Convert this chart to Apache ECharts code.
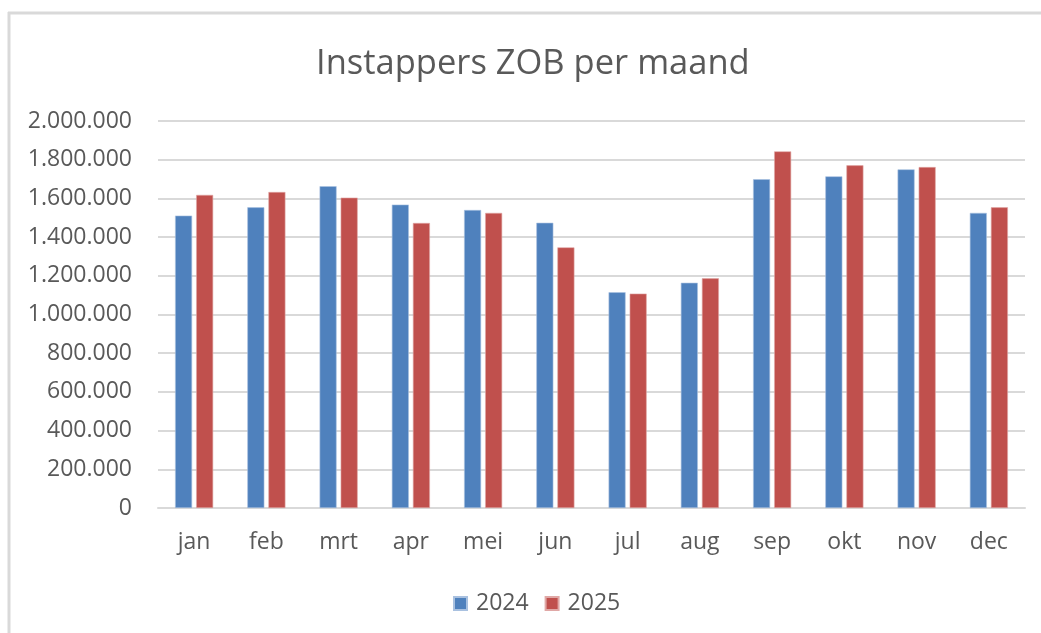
<!DOCTYPE html>
<html>
<head>
<meta charset="utf-8">
<script src="https://cdn.jsdelivr.net/npm/echarts@6/dist/echarts.min.js"></script>
<style>
html,body{margin:0;padding:0;background:#fff;}
#chart{width:1041px;height:633px;}
</style>
</head>
<body>
<div id="chart"></div>
<script>
const categories = ['jan','feb','mrt','apr','mei','jun','jul','aug','sep','okt','nov','dec'];
const values2024 = [1511000,1554000,1663000,1568000,1540000,1474000,1115000,1164000,1699000,1714000,1750000,1525000];
const values2025 = [1618000,1633000,1604000,1473000,1525000,1347000,1108000,1187000,1843000,1771000,1762000,1554000];
const seriesNames = ['2024','2025'];
const titleText = 'Instappers ZOB per maand';

const FONT = '"Open Sans", "Noto Sans", sans-serif';
const chart = echarts.init(document.getElementById('chart'), null, {renderer:'canvas'});
function fmt(v){ return String(v).replace(/\B(?=(\d{3})+(?!\d))/g,'.'); }
chart.setOption({
  backgroundColor:'#fff',
  animation:false,
  title:{
    text:titleText, left:311, top:42,
    textStyle:{fontFamily:FONT,fontSize:34.5,fontWeight:'normal',color:'#595959'}
  },
  legend:{
    data:seriesNames, left:448, top:587, itemWidth:13, itemHeight:13, itemGap:16,
    icon:'rect',
    textStyle:{fontFamily:FONT,fontSize:23,color:'#595959',padding:[0,0,0,4]}
  },
  grid:{left:158,right:16,top:121,bottom:125,containLabel:false},
  xAxis:{
    type:'category', data:categories,
    axisLine:{lineStyle:{color:'#d9d9d9',width:2}},
    axisTick:{show:false},
    axisLabel:{fontFamily:FONT,fontSize:23,color:'#595959',margin:23}
  },
  yAxis:{
    type:'value', min:0, max:2000000, interval:200000,
    axisLine:{show:false}, axisTick:{show:false},
    splitLine:{lineStyle:{color:'#d9d9d9',width:2}},
    axisLabel:{fontFamily:FONT,fontSize:23,color:'#595959',margin:26,formatter:fmt}
  },
  series:[
    {name:seriesNames[0],type:'bar',data:values2024,barWidth:17,barGap:'24%',
     itemStyle:{color:'#4F81BD',borderColor:'#a9c1e0',borderWidth:0.6}},
    {name:seriesNames[1],type:'bar',data:values2025,barWidth:17,barGap:'24%',
     itemStyle:{color:'#C0504D',borderColor:'#e0a8a6',borderWidth:0.6}}
  ],
  graphic:[
    {type:'line',shape:{x1:8,y1:13,x2:1041,y2:13},style:{stroke:'#d9d9d9',lineWidth:3},silent:true},
    {type:'line',shape:{x1:9,y1:12,x2:9,y2:633},style:{stroke:'#d9d9d9',lineWidth:3},silent:true}
  ]
});
</script>
</body>
</html>
